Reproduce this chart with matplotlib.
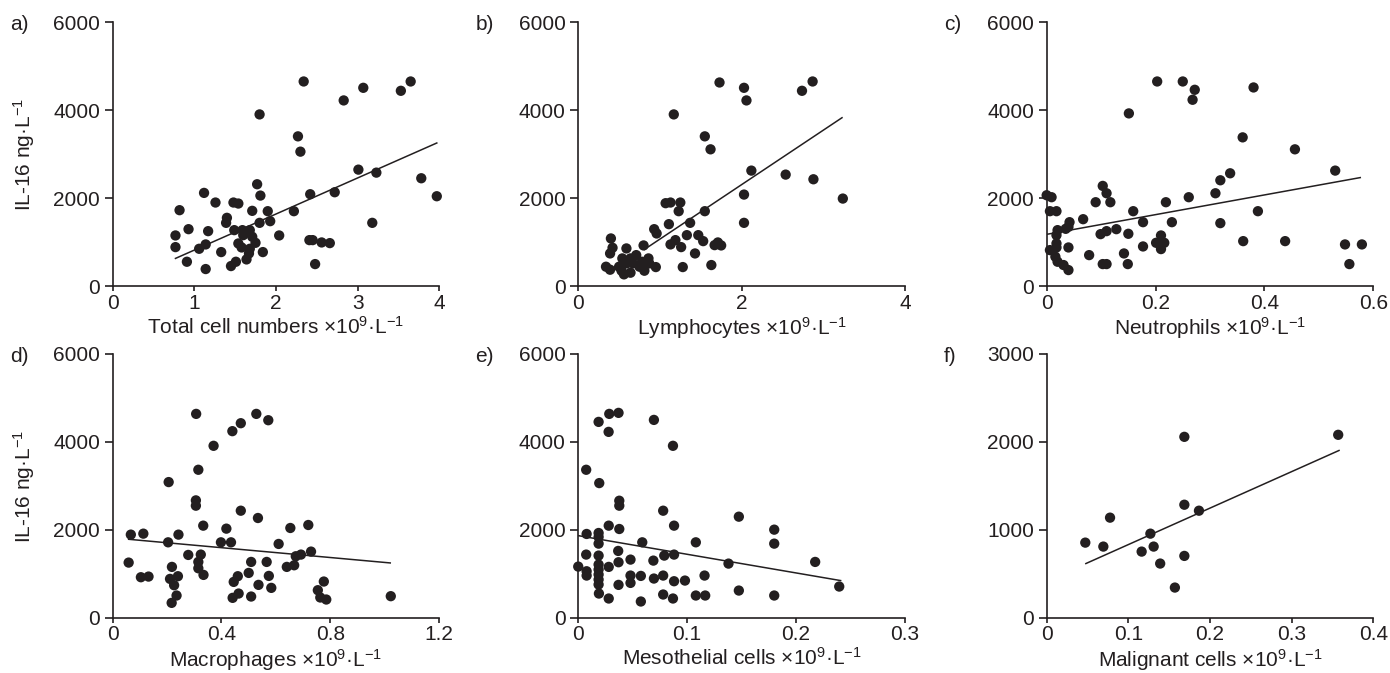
import numpy as np
import matplotlib
matplotlib.use("Agg")
import matplotlib.pyplot as plt

plt.rcParams['font.family'] = ['Liberation Sans', 'DejaVu Sans']
plt.rcParams['mathtext.fontset'] = 'custom'
plt.rcParams['mathtext.rm'] = 'Liberation Sans'
plt.rcParams['mathtext.it'] = 'Liberation Sans:italic'

# a) total cell numbers
total_x = [2.34, 3.07, 3.65, 3.53, 2.83, 1.80, 2.27, 2.30, 3.01, 3.23, 3.78, 3.97, 1.77, 1.81,
           2.42, 2.72, 1.12, 1.26, 1.48, 1.54, 0.82, 1.71, 1.90, 2.22, 1.40, 1.39, 1.80, 1.93,
           3.18, 0.93, 1.17, 1.49, 1.59, 1.68, 0.77, 2.04, 1.71, 1.60, 2.41, 2.45, 2.56, 2.66,
           1.75, 1.54, 0.77, 1.14, 1.06, 1.58, 1.68, 1.33, 1.84, 1.67, 1.64, 0.91, 1.51, 1.45,
           2.48, 1.14]
total_y = [4652, 4508, 4652, 4440, 4221, 3903, 3404, 3056, 2647, 2579, 2451, 2042, 2315, 2057,
           2088, 2133, 2118, 1899, 1899, 1876, 1725, 1710, 1702, 1702, 1551, 1437, 1437, 1475,
           1437, 1293, 1248, 1271, 1271, 1271, 1150, 1150, 1120, 1157, 1044, 1044, 991, 976,
           983, 968, 885, 946, 847, 877, 847, 772, 772, 741, 605, 552, 552, 454,
           499, 386]
total_fit = ([0.77, 3.97], [628, 3253])

# b) lymphocytes
lymph_x = [1.73, 2.87, 2.03, 2.74, 2.06, 1.17, 1.55, 1.62, 2.12, 2.54, 2.88, 3.24, 2.03, 1.07,
           1.13, 1.25, 1.23, 1.55, 1.11, 1.37, 2.03, 0.93, 0.96, 1.33, 1.47, 1.53, 1.19, 1.13,
           1.26, 1.67, 1.71, 1.75, 1.43, 1.63, 1.28, 0.40, 0.42, 0.39, 0.34, 0.39, 0.59, 0.80,
           0.54, 0.64, 0.71, 0.86, 0.78, 0.59, 0.67, 0.95, 0.81, 0.53, 0.56, 0.64, 0.75, 0.50,
           0.87]
lymph_y = [4629, 4652, 4508, 4440, 4221, 3903, 3404, 3109, 2625, 2534, 2428, 1989, 2080, 1884,
           1899, 1899, 1702, 1702, 1407, 1437, 1437, 1293, 1195, 1157, 1157, 1021, 1044, 946,
           885, 930, 991, 923, 741, 477, 431, 1082, 870, 741, 439, 371, 855, 923,
           628, 628, 703, 628, 552, 514, 514, 431, 348, 348, 265, 303, 439, 439,
           514]
lymph_fit = ([0.81, 3.23], [832, 3828])

# c) neutrophils
neut_x = [0.203, 0.250, 0.272, 0.268, 0.380, 0.151, 0.360, 0.456, 0.530, 0.337, 0.319, 0.310,
          0.261, 0.219, 0.103, 0.110, 0.117, 0.090, 0.000, 0.009, 0.006, 0.018, 0.159, 0.388,
          0.067, 0.177, 0.230, 0.319, 0.042, 0.040, 0.035, 0.020, 0.018, 0.128, 0.110, 0.099,
          0.150, 0.210, 0.201, 0.216, 0.210, 0.177, 0.361, 0.438, 0.548, 0.579, 0.556, 0.018,
          0.018, 0.006, 0.040, 0.078, 0.142, 0.016, 0.020, 0.031, 0.040, 0.103, 0.110, 0.149]
neut_y = [4652, 4652, 4463, 4236, 4516, 3926, 3381, 3109, 2625, 2564, 2405, 2110,
          2020, 1906, 2277, 2110, 1906, 1906, 2065, 2020, 1702, 1702, 1702, 1702,
          1520, 1452, 1452, 1430, 1452, 1346, 1301, 1271, 1157, 1293, 1248, 1180,
          1188, 1150, 983, 983, 840, 900, 1021, 1021, 946, 946, 499, 968,
          877, 817, 877, 703, 741, 666, 552, 477, 363, 499, 499, 499]
neut_fit = ([0.002, 0.576], [1180, 2466])

# d) macrophages
macro_x = [0.307, 0.528, 0.572, 0.471, 0.440, 0.371, 0.315, 0.206, 0.306, 0.306, 0.471, 0.534,
           0.333, 0.418, 0.653, 0.719, 0.067, 0.113, 0.242, 0.204, 0.398, 0.435, 0.610, 0.729,
           0.692, 0.673, 0.324, 0.278, 0.059, 0.315, 0.509, 0.566, 0.315, 0.218, 0.640, 0.667,
           0.500, 0.104, 0.132, 0.211, 0.240, 0.334, 0.226, 0.460, 0.445, 0.574, 0.536, 0.583,
           0.776, 0.754, 0.763, 0.785, 1.022, 0.235, 0.217, 0.441, 0.463, 0.509]
macro_y = [4638, 4638, 4494, 4426, 4245, 3912, 3367, 3087, 2671, 2550, 2436, 2270,
           2096, 2028, 2043, 2111, 1892, 1914, 1892, 1717, 1717, 1717, 1680, 1506,
           1438, 1400, 1438, 1430, 1256, 1271, 1271, 1271, 1127, 1158, 1158, 1195,
           1021, 923, 938, 885, 946, 976, 741, 946, 817, 953, 749, 681,
           825, 628, 462, 416, 492, 507, 340, 454, 552, 484]
macro_fit = ([0.059, 1.02], [1786, 1248])

# e) mesothelial cells
meso_x = [0.0285, 0.037, 0.0187, 0.0279, 0.0695, 0.087, 0.0073, 0.0193, 0.0377, 0.0377, 0.078,
          0.1475, 0.028, 0.088, 0.0377, 0.18, 0.0077, 0.0187, 0.0187, 0.0187, 0.0588, 0.108,
          0.18, 0.0073, 0.0187, 0.0367, 0.079, 0.088, 0.0, 0.0077, 0.0077, 0.0187, 0.0187,
          0.0187, 0.0187, 0.0187, 0.028, 0.037, 0.048, 0.069, 0.138, 0.2176, 0.048, 0.0575,
          0.048, 0.0695, 0.078, 0.088, 0.098, 0.116, 0.037, 0.019, 0.028, 0.0575, 0.078,
          0.087, 0.108, 0.1166, 0.1475, 0.18, 0.2397]
meso_y = [4638, 4661, 4456, 4229, 4501, 3912, 3367, 3064, 2663, 2550, 2436,
          2300, 2096, 2096, 2020, 2005, 1907, 1929, 1839, 1687, 1717, 1717,
          1687, 1438, 1415, 1521, 1415, 1438, 1165, 1059, 961, 1211, 1097,
          984, 870, 757, 1158, 1264, 1324, 1301, 1233, 1271, 961, 953,
          794, 893, 961, 832, 847, 961, 749, 552, 439, 371, 530,
          439, 507, 507, 620, 507, 711]
meso_fit = ([0.0, 0.241], [1869, 847])

# f) malignant cells
malig_x = [0.1686, 0.357, 0.1686, 0.1865, 0.0776, 0.0473, 0.0694, 0.127, 0.1163, 0.131,
           0.139, 0.1686, 0.157]
malig_y = [2058, 2081, 1286, 1218, 1139, 855, 810, 957, 753, 810, 617, 704, 344]
malig_fit = ([0.048, 0.358], [617, 1903])

panels = [
    ('a)', total_x, total_y, total_fit, 'Total cell numbers', [0, 1, 2, 3, 4], ['0', '1', '2', '3', '4'], 6000),
    ('b)', lymph_x, lymph_y, lymph_fit, 'Lymphocytes', [0, 2, 4], ['0', '2', '4'], 6000),
    ('c)', neut_x, neut_y, neut_fit, 'Neutrophils', [0, 0.2, 0.4, 0.6], ['0', '0.2', '0.4', '0.6'], 6000),
    ('d)', macro_x, macro_y, macro_fit, 'Macrophages', [0, 0.4, 0.8, 1.2], ['0', '0.4', '0.8', '1.2'], 6000),
    ('e)', meso_x, meso_y, meso_fit, 'Mesothelial cells', [0, 0.1, 0.2, 0.3], ['0', '0.1', '0.2', '0.3'], 6000),
    ('f)', malig_x, malig_y, malig_fit, 'Malignant cells', [0, 0.1, 0.2, 0.3, 0.4], ['0', '0.1', '0.2', '0.3', '0.4'], 3000),
]

ink = '#231f20'
fig = plt.figure(figsize=(13.9, 6.73), dpi=100)
lefts = [0.081, 0.416, 0.753]
bottoms = [0.575, 0.082]
w, h = 0.235, 0.392

for i, (tag, xs, ys, fit, name, xt, xtl, ymax) in enumerate(panels):
    row, col = divmod(i, 3)
    ax = fig.add_axes([lefts[col], bottoms[row], w, h])
    ax.scatter(xs, ys, s=55, color=ink, edgecolors='none', zorder=3, clip_on=False)
    ax.plot(fit[0], fit[1], color=ink, lw=1.1)
    ax.set_xlim(xt[0], xt[-1])
    ax.set_ylim(0, ymax)
    ax.set_xticks(xt)
    ax.set_xticklabels(xtl)
    yt = np.linspace(0, ymax, 4)
    ax.set_yticks(yt)
    ax.set_yticklabels([str(int(v)) for v in yt])
    for s in ['top', 'right']:
        ax.spines[s].set_visible(False)
    for s in ['left', 'bottom']:
        ax.spines[s].set_color(ink)
        ax.spines[s].set_linewidth(1.2)
    ax.tick_params(direction='out', width=1.2, color=ink, labelsize=15, labelcolor=ink)
    ax.tick_params(axis='x', length=3.5, pad=2)
    ax.tick_params(axis='y', length=6, pad=3)
    ax.set_xlabel(name + r' ×10$^{9}$·L$^{-1}$', fontsize=15, color=ink, labelpad=2)
    if col == 0:
        ax.set_ylabel(r'IL-16 ng·L$^{-1}$', fontsize=15, color=ink, labelpad=12)
    fig.text(lefts[col] - 0.074, bottoms[row] + h - 0.004, tag, fontsize=15, color=ink,
             ha='left', va='center')

fig.savefig('out.png', dpi=100)
